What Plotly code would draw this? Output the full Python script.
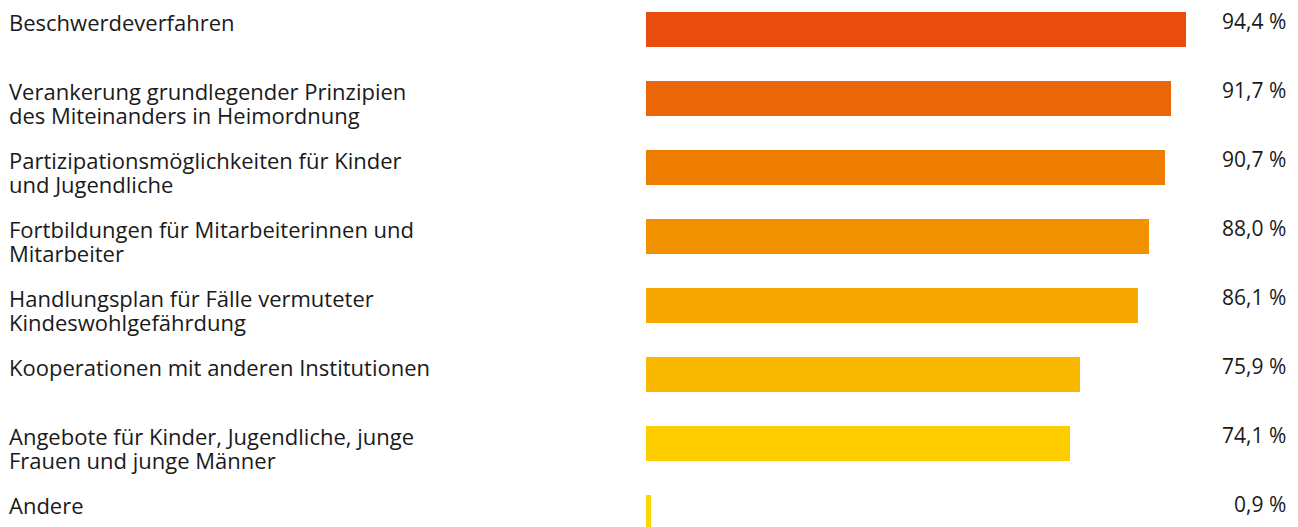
import plotly.graph_objects as go

categories = [
    "Beschwerdeverfahren",
    "Verankerung grundlegender Prinzipien<br>des Miteinanders in Heimordnung",
    "Partizipationsmöglichkeiten für Kinder<br>und Jugendliche",
    "Fortbildungen für Mitarbeiterinnen und<br>Mitarbeiter",
    "Handlungsplan für Fälle vermuteter<br>Kindeswohlgefährdung",
    "Kooperationen mit anderen Institutionen",
    "Angebote für Kinder, Jugendliche, junge<br>Frauen und junge Männer",
    "Andere",
]
values = [94.4, 91.7, 90.7, 88.0, 86.1, 75.9, 74.1, 0.9]
value_labels = ["94,4 %", "91,7 %", "90,7 %", "88,0 %", "86,1 %", "75,9 %", "74,1 %", "0,9 %"]
colors = ["#E84C0E", "#EB6609", "#EF7D00", "#F39200", "#F6A800", "#FAB900", "#FFCC00", "#FFD700"]

# page body has an 8px margin; figure drawn in its own coordinates
W, H = 1290, 527
LEFT = 638
ROW = 69.0
CENTER0 = 21.5
PX_PER_PCT = 5.72
plot_w = W - LEFT
idx = list(range(len(categories)))

fig = go.Figure()
fig.add_trace(go.Bar(
    x=values, y=idx, orientation="h",
    marker=dict(color=colors, line=dict(width=0)),
    width=35 / ROW,
    hoverinfo="skip",
))

font = "Open Sans, sans-serif"
LINE = 24.5
for i, (cat, lab) in enumerate(zip(categories, value_labels)):
    for k, line in enumerate(cat.split("<br>")):
        fig.add_annotation(
            x=0, xref="paper", xanchor="left", xshift=-LEFT,
            y=i, yref="y", yanchor="top", yshift=24 - LINE * k,
            text=line, showarrow=False, align="left", borderpad=0,
            font=dict(family=font, size=22, color="#1a1a1a"),
        )
    fig.add_annotation(
        x=1.0, xref="paper", xanchor="right", xshift=-11,
        y=i, yref="y", yanchor="top", yshift=24,
        text=lab, showarrow=False, align="right", borderpad=0,
        font=dict(family=font, size=21, color="#1a1a1a"),
    )

top_val = -CENTER0 / ROW
bot_val = (H - CENTER0) / ROW
fig.update_layout(
    width=W, height=H,
    margin=dict(l=LEFT, r=0, t=0, b=0),
    paper_bgcolor="white", plot_bgcolor="white",
    showlegend=False,
    xaxis=dict(range=[0, plot_w / PX_PER_PCT], visible=False, fixedrange=True),
    yaxis=dict(range=[bot_val, top_val], visible=False, fixedrange=True),
    bargap=0,
)
fig.write_html("out.html", config={"displayModeBar": False})
